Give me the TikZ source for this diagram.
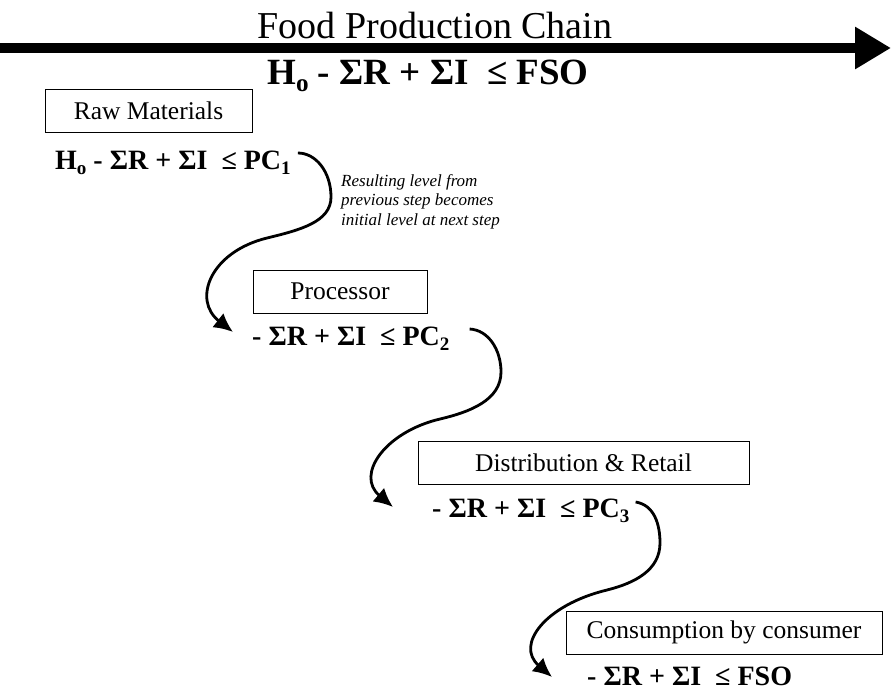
\documentclass[tikz,border=0pt]{standalone}
\usepackage{fontspec}
\setmainfont{Liberation Serif}
\usetikzlibrary{arrows.meta}
\newcommand{\lowidx}[1]{\raisebox{-0.45ex}{\scalebox{0.68}{#1}}}
\begin{document}
\begin{tikzpicture}[x=1pt, y=-1pt,
        stage/.style={draw, line width=0.8pt, rectangle, minimum height=43pt, inner xsep=0pt, font=\fontsize{25.5}{25.5}\selectfont}, % boxes of the chain
        formula/.style={anchor=base west, inner sep=0pt, font=\fontsize{28}{28}\selectfont\bfseries},
        flow/.style={line width=2.8pt, -{Latex[length=19pt, width=18pt]}}
    ]
    \useasboundingbox (0,0) rectangle (891,696);
    % main arrow
    \node (title) [anchor=base, font=\fontsize{38}{38}\selectfont] at (435,38) {Food Production Chain};
    \coordinate (chainstart) at (0,48);
    \coordinate (chainend) at (891,48);
    \draw[line width=10pt, -{Triangle[length=36pt, width=40pt]}] (chainstart) -- (chainend);
    \node (f0) [anchor=base, inner sep=0pt, font=\fontsize{37}{37}\selectfont\bfseries] at (428,84)
        {H\lowidx{o} - ΣR + ΣI \ ≤ FSO};
    % stages
    \node (raw) [stage, minimum width=207pt] at (148.5,111) {Raw Materials};
    \node (f1) [formula] at (55,169) {H\lowidx{o} - ΣR + ΣI \ ≤ PC\lowidx{1}};
    \node (proc) [stage, minimum width=174pt] at (340,291.5) {Processor};
    \node (f2) [formula] at (252,345) {- ΣR + ΣI \ ≤ PC\lowidx{2}};
    \node (distr) [stage, minimum width=331pt] at (583.5,462.5) {Distribution \& Retail};
    \node (f3) [formula] at (432,517) {- ΣR + ΣI \ ≤ PC\lowidx{3}};
    \node (cons) [stage, minimum width=316pt] at (724,632.5) {Consumption by consumer};
    \node (f4) [formula] at (587,685) {- ΣR + ΣI \ ≤ FSO};
    \node (note) [anchor=base west, align=left, inner sep=0pt, font=\fontsize{17}{19.5}\selectfont\itshape] at (341,225)
        {Resulting level from\\previous step becomes\\initial level at next step};
    % curly connectors
    \coordinate (k1) at (267,238);
    \draw[flow] ([shift={(7,-16)}]f1.base east) .. controls +(18,0) and (331,172) .. (331,197)
        .. controls (331,222) and (300,230) .. (k1)
        .. controls (210,252) and (192,300) .. ([shift={(-19,-13)}]f2.base west);
    \coordinate (k2) at (440,419);
    \draw[flow] ([shift={(20,-16)}]f2.base east) .. controls +(19,1) and (501,350) .. (501,372)
        .. controls (501,400) and (470,412) .. (k2)
        .. controls (385,432) and (355,475) .. ([shift={(-39,-10)}]f3.base west);
    \coordinate (k3) at (607,590);
    \draw[flow] ([shift={(6,-15)}]f3.base east) .. controls +(19,3) and (660,525) .. (660,543)
        .. controls (660,570) and (635,583) .. (k3)
        .. controls (545,605) and (515,645) .. ([shift={(-35,-8)}]f4.base west);
\end{tikzpicture}
\end{document}
